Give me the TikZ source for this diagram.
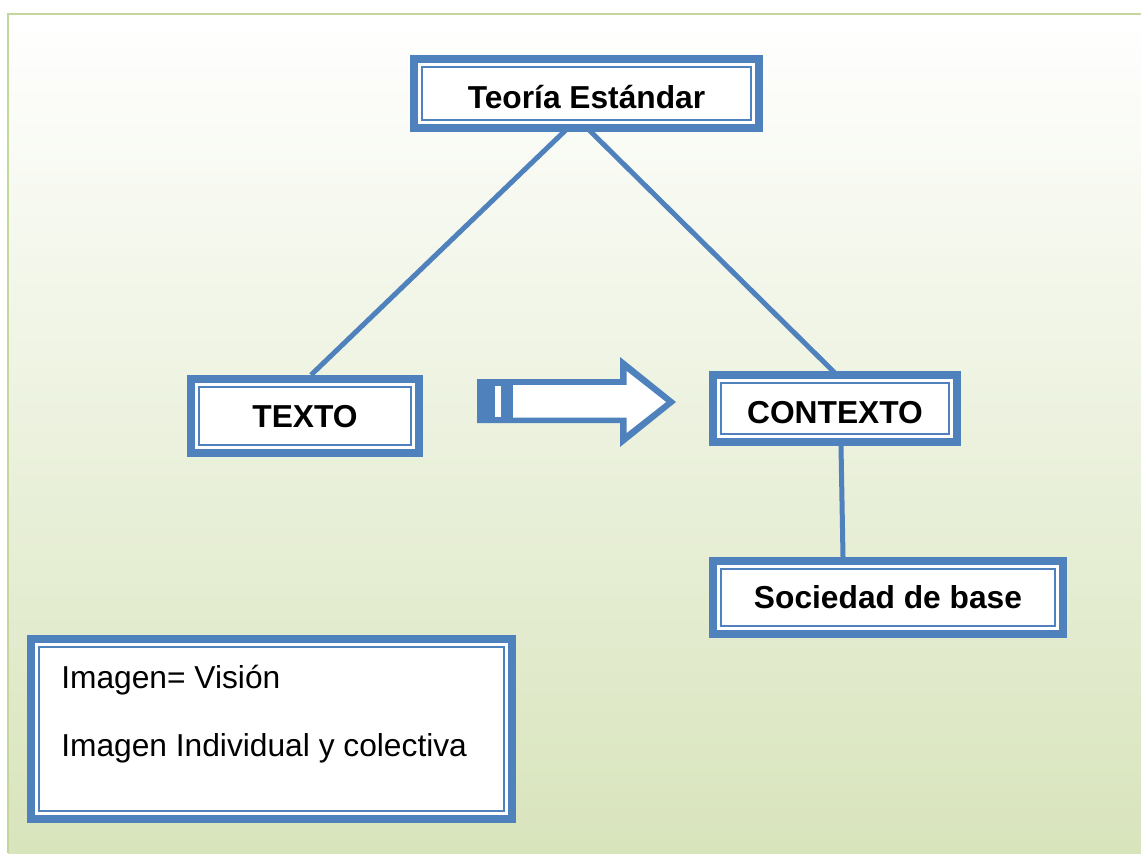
\documentclass[tikz,border=0pt]{standalone}
\usepackage{fontspec}
\setmainfont{Liberation Sans}
\definecolor{boxblue}{HTML}{4F81BD}
\definecolor{bggreen}{HTML}{D8E4BC}
\definecolor{bgborder}{HTML}{C3D69B}
\tikzset{
  bx/.style={draw=boxblue, line width=6pt, outer sep=3pt, fill=white, inner sep=0pt,
    font=\fontsize{23.8pt}{28pt}\selectfont\bfseries, text height=17pt, text depth=0pt},
  innerline/.style={draw=boxblue, line width=1.1pt},
  conn/.style={draw=boxblue, line width=3.75pt},
  plaintext/.style={font=\fontsize{23.8pt}{28pt}\selectfont, inner sep=0pt, anchor=base west},
}
\begin{document}
\begin{tikzpicture}[x=0.75pt,y=-0.75pt]
\useasboundingbox (0,0) rectangle (1141,853);
% background
\shade[top color=white, bottom color=bggreen] (8,14) rectangle (1141,853);
\draw[bgborder, line width=2pt] (8,853) -- (8,14) -- (1141,14);

% boxes
\node[bx, minimum width=258.75pt, minimum height=51.75pt, text height=22.2pt] (teoria) at (586.5,93.5) {Teoría Estándar};
\node[bx, minimum width=171pt, minimum height=55.5pt] (texto) at (305,416) {TEXTO};
\node[bx, minimum width=183pt, minimum height=50.25pt, text height=22.2pt] (contexto) at (835,408.5) {CONTEXTO};
\node[bx, minimum width=262.5pt, minimum height=54.75pt] (sociedad) at (888,597.5) {Sociedad de base};
\node[bx, minimum width=360.75pt, minimum height=135pt] (imagen) at (271.5,729) {};
\foreach \n in {teoria,texto,contexto,sociedad,imagen}
  \draw[innerline] ([shift={(12,-12)}]\n.south west) rectangle ([shift={(-12,12)}]\n.north east);

\node[plaintext] (img1) at (61,688) {Imagen= Visión};
\node[plaintext] (img2) at (61,756.7) {Imagen Individual y colectiva};

% connectors
\coordinate (tl) at (570,126);
\coordinate (tr) at (585,126);
\draw[conn] (tl) -- ([shift={(6,0)}]texto.north);
\draw[conn] (tr) -- ([shift={(4,6)}]contexto.north);
\draw[conn] ([shift={(6,0)}]contexto.south) -- ([shift={(-45,0)}]sociedad.north);

% hollow arrow
\fill[boxblue] (477,379) -- (620,379) -- (620,357) -- (676,402) -- (620,447) -- (620,423) -- (477,423) -- cycle;
\fill[white] (513,385) -- (626.5,385) -- (626.5,371) -- (666,402) -- (626.5,433) -- (626.5,417.5) -- (513,417.5) -- cycle;
\fill[white] (495,386) rectangle (501,417);
\end{tikzpicture}
\end{document}
